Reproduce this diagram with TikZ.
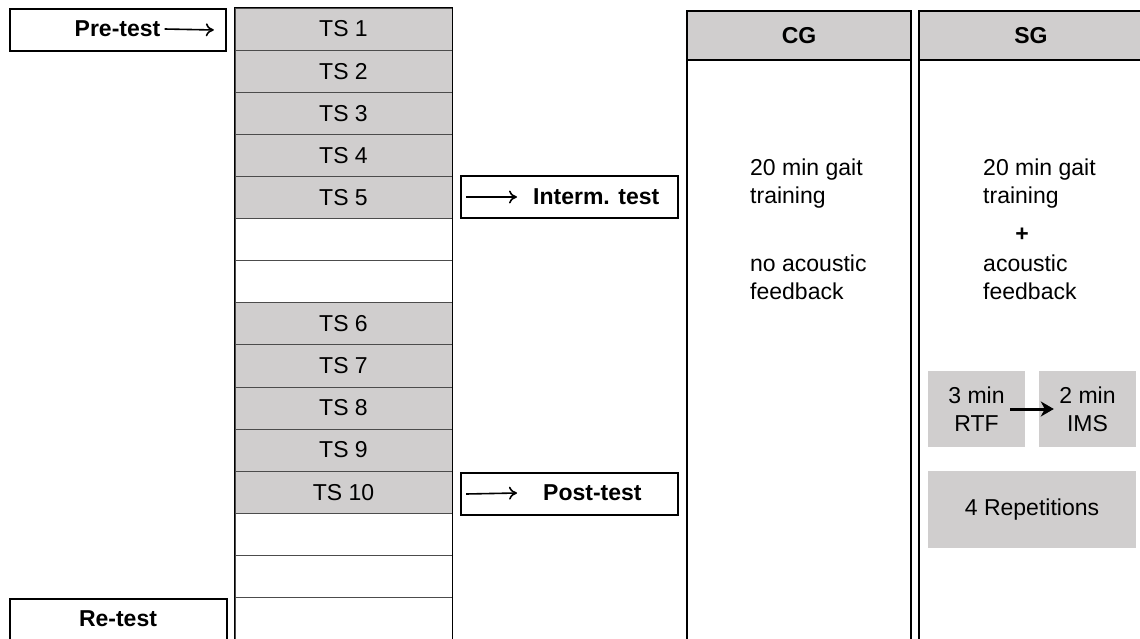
\documentclass[tikz,border=0pt]{standalone}
\usepackage{fontspec}
\setmainfont{Liberation Sans}
\usepackage{tikz}
\usetikzlibrary{positioning,arrows,arrows.meta}
\definecolor{tsgray}{RGB}{208,206,206}

\begin{document}
\begin{tikzpicture}[x=1pt, y=-1pt, font=\fontsize{23}{28}\selectfont,
 box/.style={draw, line width=1.6pt, inner sep=0pt},
 tsrow/.style={draw=black!70, line width=0.8pt, minimum width=217pt, minimum height=42.1pt, inner sep=0pt},
 lbl/.style={inner sep=0pt, font=\fontsize{23}{28}\selectfont\bfseries},
 txt/.style={inner sep=0pt, align=left},
 grp/.style={fill=tsgray, inner sep=0pt, align=center},
 arr/.style={-{To[length=8pt,width=13pt]}, line width=1.6pt},
 bigarr/.style={-{Stealth[length=13pt,width=15pt,inset=4pt]}, line width=3pt}]
\useasboundingbox (0,0) rectangle (1140,639);
% sessions
\foreach \i/\t/\c in {0/TS 1/tsgray,1/TS 2/tsgray,2/TS 3/tsgray,3/TS 4/tsgray,4/TS 5/tsgray,5//white,6//white,7/TS 6/tsgray,8/TS 7/tsgray,9/TS 8/tsgray,10/TS 9/tsgray,11/TS 10/tsgray,12//white,13//white,14//white}{
	\node[tsrow, fill=\c] (r\i) at (343.5,{29.05+42.1*\i}) {\t};}
\draw[line width=1.6pt] (r14.south west) -- (r0.north west) -- (r0.north east) -- (r14.south east);

% tests
\node[box, minimum width=216pt, minimum height=42pt] (pretest) at (118,30) {};
\node[lbl] (pretxt) at (117.5,29) {Pre-test};
\draw[arr] ([xshift=4pt]pretxt.east) -- ([xshift=-13pt]pretest.east);
\node[box, minimum width=217pt, minimum height=42pt] (interm) at (569.5,197) {};
\node[lbl, anchor=west] (intertxt) at (533,197) {Interm. test};
\draw[arr] ([xshift=6pt]interm.west) -- ([xshift=-16pt]intertxt.west);
\node[box, minimum width=217pt, minimum height=42pt] (posttest) at (569.5,494) {};
\node[lbl, anchor=west] (posttxt) at (543,493) {Post-test};
\draw[arr] ([xshift=6pt]posttest.west) -- ([xshift=-26pt]posttxt.west);
\node[box, minimum width=217pt, minimum height=60pt] (retest) at (118.5,629) {};
\node[lbl] (retxt) at (118,619) {Re-test};

% groups
\node[box, minimum width=224pt, minimum height=640pt, anchor=north] (cg) at (799,10) {};
\node[box, fill=tsgray, minimum width=224pt, minimum height=49pt, anchor=north, font=\fontsize{23}{28}\selectfont\bfseries] (cghead) at (cg.north) {CG};
\node[box, minimum width=224pt, minimum height=640pt, anchor=north] (sg) at (1031,10) {};
\node[box, fill=tsgray, minimum width=224pt, minimum height=49pt, anchor=north, font=\fontsize{23}{28}\selectfont\bfseries] (sghead) at (sg.north) {SG};

\node[txt, anchor=west] (cgtrain) at (750,184) {20 min gait\\training};
\node[txt, anchor=west] (cgfb) at (750,277) {no acoustic\\feedback};
\node[txt, anchor=west] (sgtrain) at (983,184) {20 min gait\\training};
\node[lbl] (sgplus) at (1022,235) {+};
\node[txt, anchor=west] (sgfb) at (983,277) {acoustic\\feedback};

\node[grp, minimum width=97pt, minimum height=76pt] (rtf) at (976.5,409) {3 min\\RTF};
\node[grp, minimum width=97pt, minimum height=76pt] (ims) at (1087.5,409) {2 min\\IMS};
\draw[bigarr] ([xshift=-15pt]rtf.east) -- ([xshift=15pt]ims.west);
\node[grp, minimum width=208pt, minimum height=77pt] (reps) at (1032,509.5) {4 Repetitions};
\end{tikzpicture}
\end{document}
